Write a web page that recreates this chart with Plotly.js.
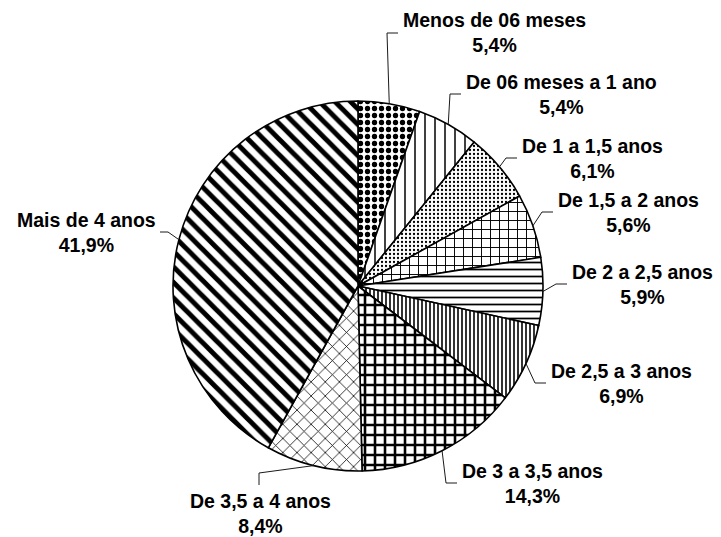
<!DOCTYPE html>
<html>
<head>
<meta charset="utf-8">
<script src="https://cdn.plot.ly/plotly-3.0.1.min.js"></script>
<style>
  html, body { margin: 0; padding: 0; background: #fff; }
  #chart { width: 721px; height: 537px; }
</style>
</head>
<body>
<div id="chart"></div>
<script>
// Tempo de permanência: categorias e percentuais
const categories = [
  "Menos de 06 meses",
  "De 06 meses a 1 ano",
  "De 1 a 1,5 anos",
  "De 1,5 a 2 anos",
  "De 2 a 2,5 anos",
  "De 2,5 a 3 anos",
  "De 3 a 3,5 anos",
  "De 3,5 a 4 anos",
  "Mais de 4 anos"
];
const percentages = [5.4, 5.4, 6.1, 5.6, 5.9, 6.9, 14.3, 8.4, 41.9];

// Hatch fills, one per slice
const hatchShapes   = [".", "|", ".", "+", "-", "|", "+", "x", "\\"];
const hatchSizes    = [7, 10, 4, 9, 7, 4, 10, 10, 11];
const hatchSolidity = [0.45, 0.15, 0.25, 0.2, 0.25, 0.4, 0.45, 0.15, 0.45];

// Label placement in pixels: anchor point and which side of the pie it sits on
const labelPlacement = [
  { x: 402, y: 33,  side: "r" },
  { x: 465, y: 94,  side: "r" },
  { x: 521, y: 158, side: "r" },
  { x: 557, y: 212, side: "r" },
  { x: 571, y: 284, side: "r" },
  { x: 550, y: 383, side: "r" },
  { x: 461, y: 483, side: "r" },
  { x: 260, y: 489, side: "b" },
  { x: 157, y: 232, side: "l" }
];

const W = 721, H = 537;
const CX = 358, CY = 286, R = 185;
const px = x => x / W;
const py = y => 1 - y / H;

const fmtPct = v => v.toFixed(1).replace(".", ",") + "%";

const trace = {
  type: "pie",
  labels: categories,
  values: percentages,
  sort: false,
  direction: "clockwise",
  rotation: 0,
  textinfo: "none",
  textposition: "none",
  hoverinfo: "label+percent",
  showlegend: false,
  domain: { x: [px(CX - R), px(CX + R)], y: [py(CY + R), py(CY - R)] },
  marker: {
    colors: categories.map(() => "#ffffff"),
    line: { color: "#000000", width: 1.6 },
    pattern: {
      shape: hatchShapes,
      size: hatchSizes,
      solidity: hatchSolidity,
      fgcolor: "#000000",
      bgcolor: "#ffffff",
      fillmode: "replace"
    }
  }
};

// Labels and leader lines, leader start derived from each slice's mid-angle
const total = percentages.reduce((a, b) => a + b, 0);
const annotations = [];
const shapes = [];
let cum = 0;
percentages.forEach((v, i) => {
  const mid = (cum + v / 2) / total * 2 * Math.PI;
  cum += v;
  const sx = CX + R * Math.sin(mid);
  const sy = CY - R * Math.cos(mid);
  const lp = labelPlacement[i];
  let ex, ey, kx, ky, xanchor, yanchor;
  if (lp.side === "r") {
    ex = lp.x - 4; ey = lp.y; kx = ex - 11; ky = ey;
    xanchor = "left"; yanchor = "middle";
  } else if (lp.side === "l") {
    ex = lp.x + 3; ey = lp.y; kx = ex + 8; ky = ey;
    xanchor = "right"; yanchor = "middle";
  } else {
    ex = lp.x - 1; ey = lp.y - 4; kx = ex; ky = ey - 12;
    xanchor = "center"; yanchor = "top";
  }
  annotations.push({
    xref: "paper", yref: "paper",
    x: px(lp.x), y: py(lp.y),
    xanchor: xanchor, yanchor: yanchor,
    showarrow: false,
    align: "center",
    borderpad: 0,
    text: categories[i] + "<br>" + fmtPct(v),
    font: { family: "Liberation Sans, Arial, sans-serif", size: 19.5, color: "#000", weight: "bold" }
  });
  shapes.push({
    type: "path",
    xref: "paper", yref: "paper",
    path: "M" + px(sx) + "," + py(sy) + " L" + px(kx) + "," + py(ky) + " L" + px(ex) + "," + py(ey),
    line: { color: "#1a1a1a", width: 1 }
  });
});

const layout = {
  width: W,
  height: H,
  margin: { l: 0, r: 0, t: 0, b: 0 },
  paper_bgcolor: "#ffffff",
  plot_bgcolor: "#ffffff",
  annotations: annotations,
  shapes: shapes
};

Plotly.newPlot("chart", [trace], layout, { displayModeBar: false, staticPlot: true });
</script>
</body>
</html>
